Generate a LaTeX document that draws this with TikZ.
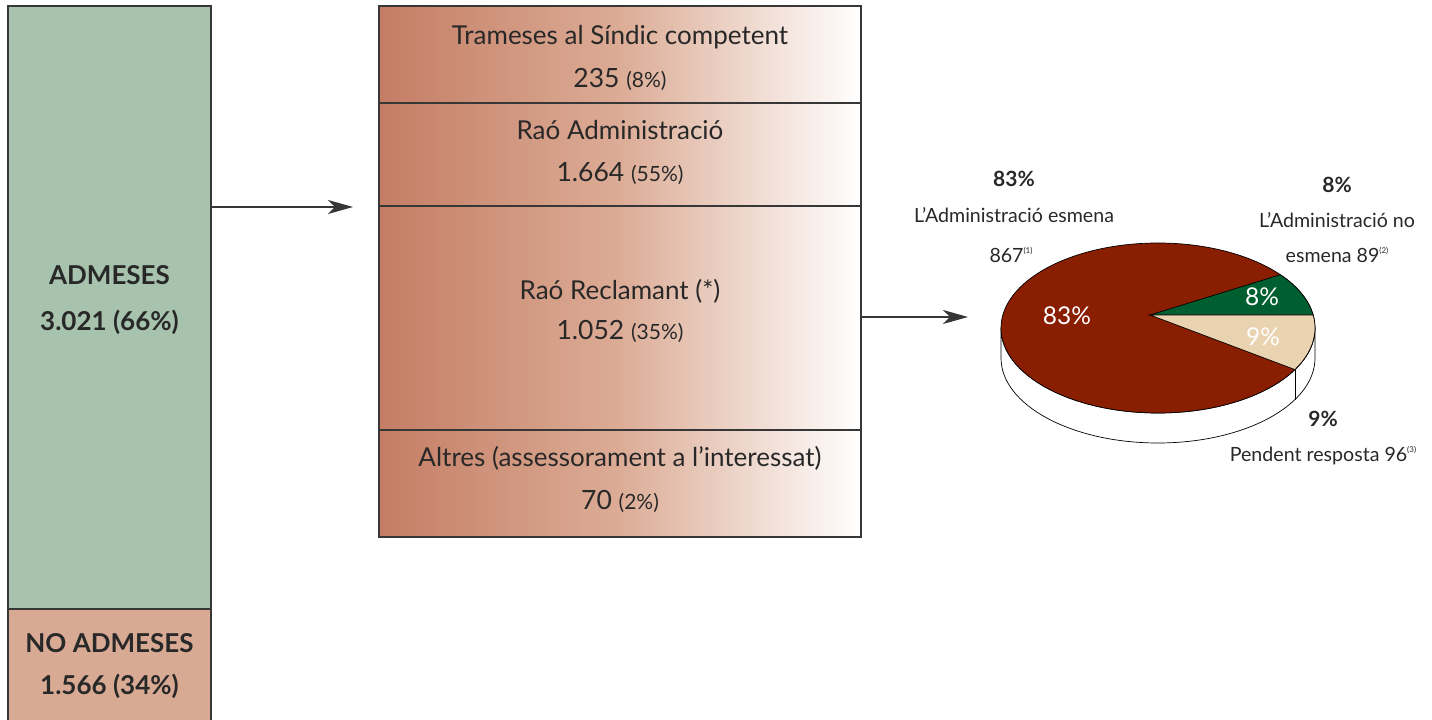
\documentclass[tikz,border=0pt]{standalone}
\usepackage{fontspec}
\setmainfont{Lato}
\usetikzlibrary{arrows.meta}
\definecolor{admgreen}{RGB}{167,194,173}
\definecolor{noadm}{RGB}{216,170,148}
\definecolor{brownL}{RGB}{196,125,100}
\definecolor{brownM}{RGB}{220,172,150}
\definecolor{piered}{RGB}{138,30,0}
\definecolor{piegreen}{RGB}{0,95,48}
\definecolor{piebeige}{RGB}{234,211,176}
\definecolor{ink}{RGB}{40,40,40}
\definecolor{frame}{RGB}{55,55,55}
\newcommand{\smtxt}[1]{{\fontsize{21}{25}\selectfont #1}}
\newcommand{\supnote}[1]{\raisebox{9pt}{\fontsize{8}{9}\selectfont #1}}
\begin{document}
\begin{tikzpicture}[x=1pt,y=1pt,
  colbox/.style={draw=frame, line width=1.5pt, inner sep=0pt, outer sep=0pt, minimum width=203},
  rowbox/.style={draw=frame, line width=1.3pt, inner sep=0pt, outer sep=0pt, minimum width=482,
     left color=brownL, right color=white, middle color=brownM},
  boldlbl/.style={font=\fontsize{26}{30}\selectfont\bfseries, text=ink, anchor=base, inner sep=0pt},
  rowtitle/.style={font=\fontsize{26}{30}\selectfont, text=ink, anchor=base, inner sep=0pt},
  rownum/.style={font=\fontsize{26.5}{30}\selectfont, text=ink, anchor=base, inner sep=0pt},
  pielbl/.style={font=\fontsize{19.6}{23}\selectfont, text=ink, anchor=base, inner sep=0pt},
  piepct/.style={font=\fontsize{21}{25}\selectfont\bfseries, text=ink, anchor=base, inner sep=0pt},
  inpct/.style={font=\fontsize{24.5}{28}\selectfont, text=white, anchor=base, inner sep=0pt},
  arr/.style={draw=frame, line width=1.2pt, -{Stealth[length=25pt,width=14pt,inset=7pt]}},
  pieline/.style={draw=black, line width=0.7pt}
]
\useasboundingbox (0,0) rectangle (1432,720);

% left column
\node[colbox, fill=admgreen, minimum height=603] (adm) at (109.5,412.5) {};
\node[colbox, fill=noadm, minimum height=118] (noadm) at (109.5,52) {};
\node[boldlbl] (admT) at (109.5,435) {ADMESES};
\node[boldlbl] (admN) at (109.5,389) {3.021 (66\%)};
\node[boldlbl] (noT) at (109.5,67) {NO ADMESES};
\node[boldlbl] (noN) at (109.5,25) {1.566 (34\%)};

% middle box
\node[rowbox, minimum height=97] (r1) at (620,665.5) {};
\node[rowbox, minimum height=103] (r2) at (620,565.5) {};
\node[rowbox, minimum height=224] (r3) at (620,402) {};
\node[rowbox, minimum height=107] (r4) at (620,236.5) {};

\node[rowtitle] (t1) at (620,675) {Trameses al Síndic competent};
\node[rownum] (n1) at (620,632) {235 \smtxt{(8\%)}};
\node[rowtitle] (t2) at (620,580) {Raó Administració};
\node[rownum] (n2) at (620,538) {1.664 \smtxt{(55\%)}};
\node[rowtitle] (t3) at (620,420) {Raó Reclamant (*)};
\node[rownum] (n3) at (620,380) {1.052 \smtxt{(35\%)}};
\node[rowtitle] (t4) at (620,253) {Altres (assessorament a l’interessat)};
\node[rownum] (n4) at (620,210) {70 \smtxt{(2\%)}};

% arrows
\coordinate (p1) at (353,513);
\coordinate (p2) at (968,403);
\draw[arr] (adm.east |- p1) -- (p1);
\draw[arr] (r3.east |- p2) -- (p2);

% pie
\coordinate (C) at (1158,392);
\coordinate (Cb) at (1158,362);
\coordinate (V) at (1150,405);
\path[pieline, fill=white] ([shift={(C)}]180:157 and 85) -- ([shift={(Cb)}]180:157 and 85)
   arc[start angle=180, end angle=360, x radius=157, y radius=85]
   -- ([shift={(C)}]0:157 and 85)
   arc[start angle=0, end angle=-180, x radius=157, y radius=85] -- cycle;
\path[pieline, fill=piered] (C) ellipse[x radius=157, y radius=85];
\path[pieline, fill=piegreen] (V) -- ([shift={(C)}]38.8:157 and 85)
   arc[start angle=38.8, end angle=8.8, x radius=157, y radius=85] -- cycle;
\path[pieline, fill=piebeige] (V) -- ([shift={(C)}]8.8:157 and 85)
   arc[start angle=8.8, end angle=-29.3, x radius=157, y radius=85] -- cycle;
\draw[pieline] ([shift={(C)}]-29.3:157 and 85) -- ([shift={(Cb)}]-29.3:157 and 85);

\node[inpct] (i1) at (1067,395) {83\%};
\node[inpct] (i2) at (1262,414) {8\%};
\node[inpct] (i3) at (1263,374) {9\%};

\node[piepct] (l1p) at (1014,533) {83\%};
\node[pielbl] (l1a) at (1014,497) {L’Administració esmena};
\node[pielbl] (l1b) at (1011,457) {867\supnote{(1)}};
\node[piepct] (l2p) at (1337,527) {8\%};
\node[pielbl] (l2a) at (1337,492) {L’Administració no};
\node[pielbl] (l2b) at (1337,457) {esmena 89\supnote{(2)}};
\node[piepct] (l3p) at (1323,293) {9\%};
\node[pielbl] (l3a) at (1323,258) {Pendent resposta 96\supnote{(3)}};
\end{tikzpicture}
\end{document}
